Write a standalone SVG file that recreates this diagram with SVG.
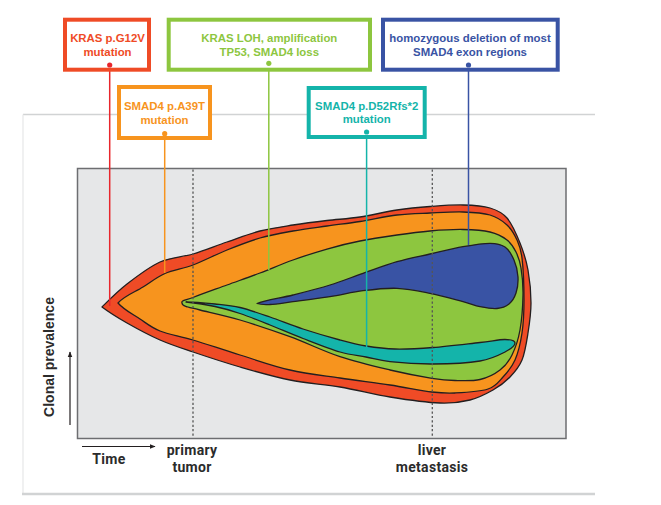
<svg xmlns="http://www.w3.org/2000/svg" width="661" height="505" viewBox="0 0 661 505">
<style>
.box{fill:#fff;stroke-width:4}
.bt{font-family:"Liberation Sans",Arial,sans-serif;font-weight:bold;font-size:11.4px;text-anchor:middle}
.ax{font-family:Roboto,"Liberation Sans",sans-serif;font-weight:bold;font-size:14px;letter-spacing:0.3px;fill:#2b2b2b;text-anchor:middle}
.fish{stroke:#231f20;stroke-width:1.3;stroke-linejoin:round}
.dot{stroke:#555;stroke-width:1.3;stroke-dasharray:2.2 2.2;fill:none}
.con{stroke-width:1.5;fill:none}
</style>
<defs>
<marker id="ah" viewBox="0 0 10 10" refX="9" refY="5" markerWidth="5" markerHeight="5" orient="auto"><path d="M0 1 L10 5 L0 9 Z" fill="#231f20"/></marker>
</defs>
<rect width="661" height="505" fill="#fff"/>
<g id="frame">
<line x1="23" y1="114.5" x2="595" y2="114.5" stroke="#d1d3d4" stroke-width="1.5"/>
<line x1="23" y1="114.5" x2="23" y2="494" stroke="#e6e7e8" stroke-width="1.2"/>
<line x1="22" y1="494" x2="595" y2="494" stroke="#d1d3d4" stroke-width="2.5"/>
</g>
<g id="plot">
<rect x="77.5" y="168.5" width="488.5" height="270" fill="#e6e7e8" stroke="#6d6e71" stroke-width="1.5"/>
<path class="fish" fill="#ef4b26" d="M102 307 C110 299 117.3 291.5 127 284 S149 267 160 262 S181.8 257.3 193 254 S215.8 245.8 227 242 S249 233.8 260 231 S281.8 226.75 293 225 S315.8 221.8 327 220.5 S348.3 218.75 360 217 S385.3 211.75 397 210 S419 207.3 430 206.5 S453 204.75 463 205 S482.7 205.8 490 208 S502 212.2 507 218 S516.5 234.3 520 243 S526.2 260 528 270 S531 292.5 531 303 S529.5 323.5 528 333 S525 352.7 522 360 S514.8 372 510 377 S499.7 386.2 493 390 S478.8 397.8 470 400 S453.3 403.5 440 403 S406.7 399.7 390 397 S356.7 389.8 340 387 S306.7 383.3 290 380 S256.2 371.7 240 367 S206.3 356.5 193 352 S171 344.8 160 340 S136.7 328.5 127 323 S110 313 102 307 Z"/>
<path class="fish" fill="#f7941e" d="M118 303 C124 296 135.2 291.9 143 287 S156.7 277.2 165 273.5 S182.7 268.9 193 265 S215.8 254.5 227 250 S249 241.2 260 238 S281.8 233 293 231 S315.8 227.6 327 226 S348.3 223.3 360 221.5 S385.3 216.4 397 215 S419 213.5 430 213 S453 211.7 463 212 S482.7 212.8 490 215 S502.5 220.8 507 225 S514.5 234.5 517 240 S520.8 248 522 258 S524 287.5 524 300 S523.5 323 522 333 S518.2 352.7 515 360 S507.5 372.2 503 377 S496 386.3 488 389 S464.3 392.5 455 393 S442.8 393.3 432 392 S405.3 387.3 390 385 S356.7 380.5 340 378 S306.7 373.8 290 370 S256.2 360 240 355 S206.3 344 193 340 S168.8 334.5 160 331 S147 323.7 140 319 S124 310 118 303 Z"/>
<path class="fish" fill="#8dc63f" d="M182 303 C181 300 185.5 300.5 193 297.5 S215.8 289.1 227 285 S249 277.2 260 273 S281.8 264 293 260 S315.8 252.2 327 249 S348.3 243.3 360 241 S385.3 236.7 397 235 S419 231.9 430 231 S453 229.3 463 229.5 S482.7 230.25 490 232 S502.7 236.7 507 240 S513.7 247.3 516 252 S519.8 260.8 521 268 S523.2 284.7 523 295 S521.8 320 520 330 S515.3 348.3 512 355 S505.3 365.9 500 370 S487.5 377.75 480 379.5 S463 380.7 455 380.5 S442.8 380 432 378.3 S405.3 373.6 390 370 S356.7 362.25 340 356.7 S306.7 342.8 290 336.7 S255 324.45 240 320 S208.7 312.2 200 310 S191 308.2 188 307 S182 306 182 303 Z"/>
<path class="fish" fill="#14b4aa" d="M186 302 C195 302 206 303.1 215 304 S230.8 305.3 240 307.5 S259.5 313.4 270 317 S291.3 325.2 303 329 S329.5 337.2 340 340 S356.8 344.5 366 346 S383.8 348.75 395 349 S418.8 348.6 433 347.5 S468 343.8 480 342.5 S499.2 339.4 505 339.5 S515 340.9 515 343 S510.8 349 505 352 S492 359 480 361 S448 363.9 433 364 S401.2 362.9 390 361.7 S374.3 358.6 366 357 S350.5 355.1 340 352 S314.7 343 303 338.5 S280.5 329.2 270 325 S249.2 316.6 240 313.5 S224 308.4 215 306.5 S195 303 186 302 Z"/>
<path class="fish" fill="#3953a4" d="M257 303.5 C265 300 280.8 298.1 293 295 S318.3 288.6 330 285 S351.8 277.2 363 273.3 S385.8 264.9 397 261.7 S419 256.5 430 254 S453 248.5 463 246.7 S483 243.3 490 243.3 S501 244.2 505 247 S511.8 255 514 260 S517.7 271.5 518 277 S517.5 288.5 516 293 S512.2 301.4 509 304 S501.8 308.05 497 308.5 S485.7 307.8 480 306.7 S471.3 303.9 463 301.7 S441 295.5 430 293.3 S408.2 288.7 397 288.3 S374.2 289.3 363 290.7 S341.7 294.9 330 296.7 S303 300.4 293 301.7 S276 304.2 270 304.5 S262 305 257 303.5 Z"/>
<line class="dot" x1="193" y1="169.5" x2="193" y2="438"/>
<line class="dot" x1="432.3" y1="169.5" x2="432.3" y2="438"/>
</g>
<g id="axes">
<line x1="70" y1="425" x2="70" y2="352" stroke="#231f20" stroke-width="1.2" marker-end="url(#ah)"/>
<line x1="82" y1="446.5" x2="155" y2="446.5" stroke="#231f20" stroke-width="1.2" marker-end="url(#ah)"/>
<text transform="translate(54 357) rotate(-90)" font-family="Liberation Sans,Arial,sans-serif" font-weight="bold" font-size="14" fill="#2b2b2b" text-anchor="middle">Clonal prevalence</text>
<text class="ax" x="109" y="464">Time</text>
<text class="ax" x="192" y="455">primary</text>
<text class="ax" x="192" y="471.8">tumor</text>
<text class="ax" x="432" y="455">liver</text>
<text class="ax" x="432" y="471.8">metastasis</text>
</g>
<g id="connectors">
<line class="con" stroke="#e8262c" x1="109.7" y1="65" x2="109.7" y2="306"/>
<line class="con" stroke="#f7941e" x1="164.7" y1="133.7" x2="164.7" y2="273"/>
<line class="con" stroke="#8dc63f" x1="268.8" y1="63.3" x2="268.8" y2="270"/>
<line class="con" stroke="#14b4aa" x1="366.6" y1="132" x2="366.6" y2="347"/>
<line class="con" stroke="#3953a4" x1="468.5" y1="65" x2="468.5" y2="245"/>
</g>
<g id="n-kras-g12v">
<rect class="box" x="65" y="19.7" width="84" height="50" stroke="#ef4b26"/>
<text class="bt" fill="#ef4b26" x="107.5" y="41.7">KRAS p.G12V</text>
<text class="bt" fill="#ef4b26" x="107.5" y="55.5">mutation</text>
<circle cx="109.7" cy="65" r="2.6" fill="#e8262c"/>
</g>
<g id="n-smad4-a39t">
<rect class="box" x="119" y="87" width="91" height="51" stroke="#f7941e"/>
<text class="bt" fill="#f7941e" x="164.5" y="110">SMAD4 p.A39T</text>
<text class="bt" fill="#f7941e" x="164.5" y="123.5">mutation</text>
<circle cx="164.7" cy="133.7" r="2.6" fill="#f7941e"/>
</g>
<g id="n-kras-loh">
<rect class="box" x="168.7" y="19.7" width="201.3" height="50" stroke="#8dc63f"/>
<text class="bt" fill="#8dc63f" x="269.3" y="41.7">KRAS LOH, amplification</text>
<text class="bt" fill="#8dc63f" x="269.3" y="55.5">TP53, SMAD4 loss</text>
<circle cx="268.8" cy="63.3" r="2.6" fill="#8dc63f"/>
</g>
<g id="n-smad4-d52">
<rect class="box" x="308.7" y="88" width="116" height="49" stroke="#14b4aa"/>
<text class="bt" fill="#14b4aa" x="366.7" y="109.5">SMAD4 p.D52Rfs*2</text>
<text class="bt" fill="#14b4aa" x="366.7" y="123">mutation</text>
<circle cx="366.6" cy="132" r="2.6" fill="#14b4aa"/>
</g>
<g id="n-smad4-del">
<rect class="box" x="383" y="19.7" width="174.7" height="50" stroke="#3953a4"/>
<text class="bt" fill="#3953a4" x="470" y="41.7">homozygous deletion of most</text>
<text class="bt" fill="#3953a4" x="470" y="55.5">SMAD4 exon regions</text>
<circle cx="468.5" cy="65" r="2.6" fill="#3953a4"/>
</g>
</svg>
